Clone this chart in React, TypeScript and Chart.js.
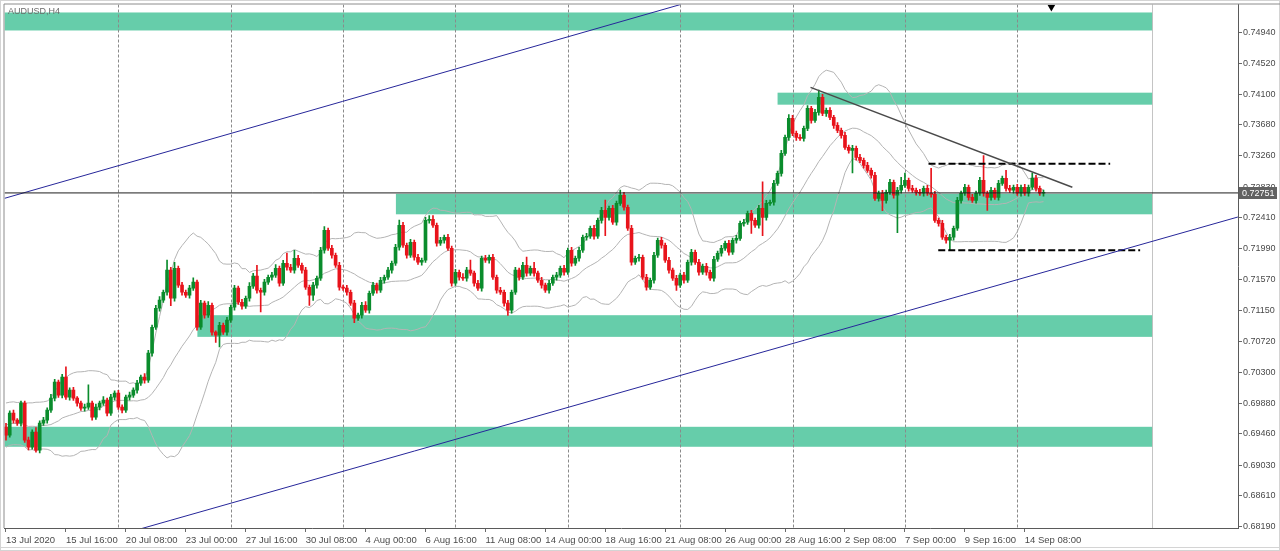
import React, { useEffect, useRef } from "react";
import { Chart, registerables } from "chart.js";

Chart.register(...registerables);

// ---------- data ----------
const symbolTitle = "AUDUSD,H4";
const firstOpen = 0.69551;

const closes = [
  0.69442, 0.69742, 0.69646, 0.69605, 0.69878, 0.69373, 0.69278, 0.69483, 0.69237, 0.69605,
  0.69646, 0.69783, 0.69947, 0.70165, 0.69988, 0.70233, 0.6996, 0.70056, 0.69947, 0.69878,
  0.6981, 0.69824, 0.69878, 0.69687, 0.69824, 0.69878, 0.69919, 0.69742, 0.6996, 0.70015,
  0.69824, 0.69783, 0.6996, 0.69988, 0.70056, 0.70151, 0.70233, 0.70192, 0.70561, 0.70916,
  0.71175, 0.71285, 0.71394, 0.71695, 0.71312, 0.71722, 0.7149, 0.71394, 0.71353, 0.71449,
  0.71531, 0.70916, 0.71244, 0.7108, 0.71216, 0.70848, 0.70807, 0.70943, 0.70848, 0.71012,
  0.71189, 0.71449, 0.71257, 0.71203, 0.71312, 0.71476, 0.71613, 0.71421, 0.71394, 0.71531,
  0.71599, 0.71627, 0.71722, 0.71517, 0.7179, 0.71735, 0.71695, 0.71858, 0.71763, 0.71695,
  0.71462, 0.71353, 0.7149, 0.71585, 0.71968, 0.72241, 0.71995, 0.71899, 0.71763, 0.71462,
  0.71449, 0.71394, 0.71244, 0.71039, 0.7108, 0.71216, 0.71148, 0.7138, 0.7149, 0.71421,
  0.71558, 0.71599, 0.71695, 0.7179, 0.72009, 0.72309, 0.72036, 0.71899, 0.72077, 0.71872,
  0.71804, 0.71831, 0.72377, 0.72391, 0.72309, 0.72063, 0.72104, 0.72145, 0.71995, 0.71517,
  0.71667, 0.71599, 0.71585, 0.71695, 0.71654, 0.71517, 0.71449, 0.71858, 0.71831, 0.71872,
  0.71599, 0.71421, 0.71394, 0.71244, 0.71148, 0.71394, 0.71695, 0.71599, 0.71763, 0.71654,
  0.71722, 0.71654, 0.71558, 0.7149, 0.71421, 0.71517, 0.71599, 0.71627, 0.71722, 0.71667,
  0.71968, 0.7179, 0.71858, 0.71968, 0.72145, 0.72159, 0.72268, 0.72159, 0.72377, 0.72514,
  0.72418, 0.72541, 0.7235, 0.72609, 0.72719, 0.72555, 0.72268, 0.71804, 0.71858, 0.71872,
  0.71599, 0.71462, 0.71558, 0.71899, 0.72104, 0.72036, 0.71831, 0.71695, 0.71585, 0.7149,
  0.71627, 0.71558, 0.71804, 0.7194, 0.71804, 0.71667, 0.71749, 0.71667, 0.71585, 0.71845,
  0.71927, 0.71995, 0.72063, 0.7194, 0.72104, 0.72131, 0.72336, 0.7235, 0.72473, 0.72377,
  0.72309, 0.72541, 0.72418, 0.72609, 0.72623, 0.72882, 0.73019, 0.73292, 0.7351, 0.7377,
  0.73565, 0.7351, 0.73497, 0.73633, 0.73906, 0.73743, 0.73852, 0.74057, 0.73838, 0.73879,
  0.73783, 0.73674, 0.73606, 0.73538, 0.73374, 0.73333, 0.7336, 0.73237, 0.73196, 0.73128,
  0.7306, 0.72992, 0.72677, 0.72746, 0.7265, 0.72759, 0.72896, 0.72719, 0.72787, 0.72855,
  0.72923, 0.72814, 0.72787, 0.72759, 0.72746, 0.72814, 0.72746, 0.72732, 0.72377, 0.72336,
  0.72145, 0.72104, 0.72145, 0.72268, 0.7265, 0.72746, 0.72828, 0.72691, 0.7265, 0.72746,
  0.72923, 0.72746, 0.72691, 0.72787, 0.72691, 0.72882, 0.72951, 0.72814, 0.72787, 0.72828,
  0.72746, 0.72828, 0.72746, 0.72828, 0.72951, 0.72814, 0.72746, 0.72751,
];

const upperWick = [
  0.0005, 0.0003, 0.0004, 0.0002, 0.0003, 0.0003, 0.0004, 0.0003, 0.0006, 0.0003,
  0.0004, 0.0003, 0.0005, 0.0004, 0.0003, 0.0004, 0.0014, 0.0003, 0.0004, 0.0002,
  0.0003, 0.0004, 0.0025, 0.0003, 0.0004, 0.0003, 0.0005, 0.0003, 0.0004, 0.0003,
  0.0004, 0.0003, 0.0003, 0.0004, 0.0003, 0.0004, 0.0003, 0.0005, 0.0004, 0.0003,
  0.0004, 0.0005, 0.0003, 0.0014, 0.0004, 0.0008, 0.0003, 0.0004, 0.0003, 0.0004,
  0.0006, 0.0003, 0.0004, 0.0003, 0.0005, 0.0003, 0.0002, 0.0004, 0.0003, 0.0004,
  0.0003, 0.0004, 0.0003, 0.0004, 0.0003, 0.0005, 0.0004, 0.0015, 0.0003, 0.0004,
  0.0003, 0.0004, 0.0005, 0.0003, 0.0004, 0.0014, 0.0004, 0.0011, 0.0004, 0.0003,
  0.0004, 0.0003, 0.0004, 0.0003, 0.0004, 0.0005, 0.0003, 0.0004, 0.0003, 0.0004,
  0.0003, 0.0004, 0.0003, 0.0004, 0.0003, 0.0004, 0.0005, 0.0003, 0.0004, 0.0003,
  0.0004, 0.0003, 0.0004, 0.0003, 0.0004, 0.0007, 0.0004, 0.0003, 0.0004, 0.0003,
  0.0004, 0.0003, 0.0004, 0.0005, 0.0005, 0.0003, 0.0004, 0.0003, 0.0004, 0.0003,
  0.0004, 0.0003, 0.0005, 0.0004, 0.0014, 0.0003, 0.0004, 0.0003, 0.0004, 0.0003,
  0.0004, 0.0003, 0.0004, 0.0003, 0.0004, 0.0003, 0.0004, 0.0003, 0.0004, 0.0011,
  0.0003, 0.0008, 0.0003, 0.0004, 0.0003, 0.0004, 0.0003, 0.0004, 0.0003, 0.0004,
  0.0003, 0.0004, 0.0003, 0.0004, 0.0003, 0.0004, 0.0003, 0.0004, 0.0003, 0.0004,
  0.0014, 0.0003, 0.0004, 0.0003, 0.0007, 0.0004, 0.0003, 0.0004, 0.0003, 0.0004,
  0.0003, 0.0004, 0.0003, 0.0004, 0.0003, 0.0004, 0.0003, 0.0004, 0.0003, 0.0004,
  0.0003, 0.0004, 0.0003, 0.0004, 0.0003, 0.0004, 0.0003, 0.0004, 0.0003, 0.0004,
  0.0003, 0.0004, 0.0003, 0.0004, 0.0003, 0.0004, 0.0003, 0.0004, 0.0003, 0.0004,
  0.0003, 0.0004, 0.0036, 0.0004, 0.0003, 0.0004, 0.0003, 0.0004, 0.0003, 0.0005,
  0.0004, 0.0003, 0.0004, 0.0003, 0.0004, 0.0003, 0.0004, 0.001, 0.0004, 0.0003,
  0.0004, 0.0003, 0.0004, 0.0003, 0.0004, 0.0003, 0.0004, 0.0003, 0.0004, 0.0003,
  0.0004, 0.0003, 0.0004, 0.0003, 0.0004, 0.0003, 0.0004, 0.0003, 0.0004, 0.0011,
  0.001, 0.0003, 0.0004, 0.0003, 0.0004, 0.0003, 0.0004, 0.0034, 0.0004, 0.0003,
  0.0004, 0.0003, 0.0004, 0.0003, 0.0004, 0.0003, 0.0004, 0.0003, 0.0004, 0.0003,
  0.0004, 0.0034, 0.0003, 0.0004, 0.0003, 0.0004, 0.0003, 0.0011, 0.0004, 0.0003,
  0.0004, 0.0003, 0.0004, 0.0003, 0.0007, 0.0004, 0.0003, 0.0004,
];

const lowerWick = [
  0.0007, 0.0003, 0.0004, 0.0003, 0.0004, 0.0003, 0.0004, 0.0003, 0.0003, 0.0004,
  0.0003, 0.0004, 0.0003, 0.0004, 0.0003, 0.0004, 0.0003, 0.0004, 0.0003, 0.0004,
  0.0003, 0.0004, 0.0003, 0.0004, 0.0003, 0.0004, 0.0003, 0.0004, 0.0003, 0.0004,
  0.0003, 0.0004, 0.0003, 0.0004, 0.0003, 0.0004, 0.0003, 0.0004, 0.0003, 0.0004,
  0.0003, 0.0004, 0.0003, 0.0004, 0.001, 0.0004, 0.0003, 0.0004, 0.0003, 0.0004,
  0.0003, 0.0004, 0.0003, 0.0004, 0.0003, 0.0004, 0.001, 0.0016, 0.0003, 0.0004,
  0.0003, 0.0004, 0.0003, 0.0004, 0.0003, 0.0004, 0.0003, 0.0004, 0.0027, 0.0004,
  0.0003, 0.0004, 0.0003, 0.0004, 0.0003, 0.0004, 0.0003, 0.0004, 0.0003, 0.0004,
  0.0003, 0.0014, 0.0007, 0.0004, 0.0003, 0.0004, 0.0003, 0.0004, 0.0003, 0.0004,
  0.0003, 0.0004, 0.0003, 0.0006, 0.0003, 0.0004, 0.0003, 0.0004, 0.0003, 0.0004,
  0.0003, 0.0004, 0.0003, 0.0004, 0.0003, 0.0004, 0.0003, 0.0004, 0.0003, 0.0004,
  0.0003, 0.0004, 0.0003, 0.0004, 0.0003, 0.0004, 0.0003, 0.0004, 0.0003, 0.0004,
  0.0003, 0.0004, 0.0003, 0.0004, 0.0003, 0.0004, 0.0003, 0.0004, 0.0003, 0.0004,
  0.0003, 0.0004, 0.0003, 0.0004, 0.0007, 0.0004, 0.0003, 0.0004, 0.0003, 0.0004,
  0.0003, 0.0004, 0.0003, 0.0004, 0.0003, 0.0004, 0.0003, 0.0004, 0.0003, 0.0004,
  0.0003, 0.0004, 0.0003, 0.0004, 0.0003, 0.0004, 0.0003, 0.0004, 0.0003, 0.0004,
  0.0025, 0.0004, 0.0003, 0.0004, 0.0003, 0.0004, 0.0003, 0.0004, 0.0003, 0.0004,
  0.0003, 0.0004, 0.0003, 0.0004, 0.0003, 0.0004, 0.0003, 0.0004, 0.0003, 0.0007,
  0.0003, 0.0004, 0.0003, 0.0004, 0.0003, 0.0004, 0.0003, 0.0004, 0.0003, 0.0004,
  0.0003, 0.0004, 0.0003, 0.0004, 0.0003, 0.0004, 0.0003, 0.0004, 0.0003, 0.0018,
  0.0003, 0.0004, 0.0025, 0.0004, 0.0003, 0.0004, 0.0003, 0.0004, 0.0003, 0.0004,
  0.0003, 0.0004, 0.0003, 0.0004, 0.0003, 0.0004, 0.0003, 0.0004, 0.0003, 0.0004,
  0.0003, 0.0004, 0.0003, 0.0004, 0.0003, 0.0004, 0.0031, 0.0004, 0.0003, 0.0004,
  0.0003, 0.0004, 0.0003, 0.0004, 0.0014, 0.0004, 0.0003, 0.0004, 0.0051, 0.0004,
  0.0003, 0.0004, 0.0003, 0.0004, 0.0003, 0.0004, 0.0003, 0.0004, 0.0003, 0.0004,
  0.0003, 0.0004, 0.0014, 0.0004, 0.0003, 0.0004, 0.0003, 0.0004, 0.0003, 0.0004,
  0.0003, 0.0004, 0.0018, 0.0004, 0.0003, 0.0004, 0.0003, 0.0004, 0.0003, 0.0004,
  0.0003, 0.0004, 0.0003, 0.0004, 0.0003, 0.0004, 0.0003, 0.0004,
];

// closes before the first visible bar, estimated from the band width at the left edge
const historyCloses = [
  0.69373, 0.6951, 0.69715, 0.69851, 0.69783, 0.69646, 0.69442, 0.69305, 0.69373, 0.69578,
  0.69715, 0.69783, 0.69646, 0.6951, 0.69442, 0.69578, 0.69715, 0.69646, 0.6951,
];

const timeLabels = [
  "13 Jul 2020", "15 Jul 16:00", "20 Jul 08:00", "23 Jul 00:00", "27 Jul 16:00",
  "30 Jul 08:00", "4 Aug 00:00", "6 Aug 16:00", "11 Aug 08:00", "14 Aug 00:00",
  "18 Aug 16:00", "21 Aug 08:00", "26 Aug 00:00", "28 Aug 16:00", "2 Sep 08:00",
  "7 Sep 00:00", "9 Sep 16:00", "14 Sep 08:00",
];
const barsPerTimeLabel = 16;

const priceTicks = [
  0.7494, 0.7452, 0.741, 0.7368, 0.7326, 0.7283, 0.7241, 0.7199, 0.7157,
  0.7115, 0.7072, 0.703, 0.6988, 0.6946, 0.6903, 0.6861, 0.6819,
];
const lastPrice = 0.72751;

const zoneTops = [0.75217, 0.74121, 0.72739, 0.7108, 0.69555];
const zoneBottoms = [0.74971, 0.73957, 0.72459, 0.70784, 0.69282];
const zoneStarts = [-1, 206.0, 104.1, 51.1, -1];
const zoneEnds = [306.0, 306.0, 306.0, 306.0, 306.0];

const weekSeparatorBars = [30, 60, 90, 120, 150, 180, 210, 240, 270];
const shiftLineBar = 306.0;

const upperChannel = [{ x: -0.4, y: 0.72677 }, { x: 180.1, y: 0.75326 }];
const lowerChannel = [{ x: 34.8, y: 0.68144 }, { x: 328.9, y: 0.72422 }];
const resistanceLine = [{ x: 214.8, y: 0.74193 }, { x: 284.7, y: 0.72828 }];
const rangeHigh = [{ x: 246.3, y: 0.73151 }, { x: 294.8, y: 0.73151 }];
const rangeLow = [{ x: 248.9, y: 0.71968 }, { x: 302.8, y: 0.71968 }];
const shiftMarker = [{ x: 279.1, y: 0.75292 }];

// ---------- view ----------
const X_MIN = -0.4;
const X_MAX = 328.93;
const Y_MIN = 0.68172;
const Y_MAX = 0.75326;

const BULL = "#0a8c2c";
const BEAR = "#e8131b";
const FONT = "Liberation Sans";

function bollinger(period: number, mult: number) {
  const all = [...historyCloses, ...closes];
  const off = historyCloses.length;
  const mid: any[] = [], up: any[] = [], lo: any[] = [];
  for (let i = 0; i < closes.length; i++) {
    const k = i + off;
    const w = all.slice(Math.max(0, k - period + 1), k + 1);
    const m = w.reduce((a, b) => a + b, 0) / w.length;
    const sd = Math.sqrt(w.reduce((a, b) => a + (b - m) * (b - m), 0) / w.length);
    mid.push({ x: i, y: m });
    up.push({ x: i, y: m + mult * sd });
    lo.push({ x: i, y: m - mult * sd });
  }
  return { mid, up, lo };
}

const zeroPad = (s: any) => {
  s.paddingTop = 0;
  s.paddingBottom = 0;
  s.paddingLeft = 0;
  s.paddingRight = 0;
};

const overlayPlugin = {
  id: "mt4Overlay",
  beforeDatasetsDraw(chart: any) {
    const { ctx, chartArea: a, scales } = chart;
    const x = scales.x, y = scales.y;
    ctx.save();
    ctx.beginPath();
    ctx.rect(a.left, a.top, a.right - a.left, a.bottom - a.top);
    ctx.clip();
    ctx.fillStyle = "#66cdaa";
    zoneTops.forEach((t, i) => {
      const x1 = Math.max(a.left, x.getPixelForValue(zoneStarts[i]));
      const x2 = x.getPixelForValue(zoneEnds[i]);
      const y1 = y.getPixelForValue(t);
      const y2 = y.getPixelForValue(zoneBottoms[i]);
      ctx.fillRect(x1, y1, x2 - x1, y2 - y1);
    });
    ctx.strokeStyle = "#8a8a8a";
    ctx.lineWidth = 1;
    ctx.setLineDash([3, 2]);
    weekSeparatorBars.forEach((b) => {
      const px = Math.round(x.getPixelForValue(b)) + 0.5;
      ctx.beginPath();
      ctx.moveTo(px, a.top);
      ctx.lineTo(px, a.bottom);
      ctx.stroke();
    });
    ctx.setLineDash([1, 1]);
    const sx = Math.round(x.getPixelForValue(shiftLineBar)) + 0.5;
    ctx.beginPath();
    ctx.moveTo(sx, a.top);
    ctx.lineTo(sx, a.bottom);
    ctx.stroke();
    ctx.restore();
  },
  afterDraw(chart: any) {
    const { ctx, chartArea: a, scales, width, height } = chart;
    const y = scales.y;
    ctx.save();
    ctx.strokeStyle = "#d4d4d4";
    ctx.lineWidth = 1;
    ctx.strokeRect(0.5, 0.5, width - 1, height - 1);
    ctx.beginPath();
    ctx.moveTo(0, height - 3.5);
    ctx.lineTo(width, height - 3.5);
    ctx.stroke();
    ctx.strokeStyle = "#8c8c8c";
    ctx.beginPath();
    ctx.moveTo(a.left - 0.5, a.top - 0.5);
    ctx.lineTo(width, a.top - 0.5);
    ctx.moveTo(a.left - 0.5, a.top - 0.5);
    ctx.lineTo(a.left - 0.5, a.bottom);
    ctx.stroke();
    ctx.fillStyle = "#6a6a6a";
    ctx.font = `9px "${FONT}"`;
    ctx.textBaseline = "middle";
    ctx.textAlign = "left";
    ctx.fillText(symbolTitle, 8, 12);
    const py = Math.round(y.getPixelForValue(lastPrice));
    ctx.fillStyle = "#626262";
    ctx.fillRect(a.right + 1, py - 6, 38, 12);
    ctx.fillStyle = "#ffffff";
    ctx.fillText(lastPrice.toFixed(5), a.right + 4, py + 0.5);
    ctx.restore();
  },
};

export default function App() {
  const ref = useRef<HTMLCanvasElement | null>(null);

  useEffect(() => {
    document.body.style.margin = "0";
    const canvas = ref.current;
    if (!canvas) return;

    const opens = closes.map((c, i) => (i === 0 ? firstOpen : closes[i - 1]));
    const highs = closes.map((c, i) => Math.max(opens[i], c) + upperWick[i]);
    const lows = closes.map((c, i) => Math.min(opens[i], c) - lowerWick[i]);
    const colors = closes.map((c, i) => (c >= opens[i] ? BULL : BEAR));
    const bb = bollinger(20, 2);

    const lineDs = (data: any[], color: string, width: number, dash: number[] = [], order = 0) => ({
      type: "line",
      data,
      borderColor: color,
      borderWidth: width,
      borderDash: dash,
      pointRadius: 0,
      fill: false,
      tension: 0,
      order,
    });

    const chart = new Chart(canvas, {
      type: "bar",
      data: {
        datasets: [
          lineDs([{ x: X_MIN, y: lastPrice }, { x: X_MAX, y: lastPrice }], "#1e1e1e", 1, [], 0),
          lineDs(upperChannel, "#26269a", 1, [], 0),
          lineDs(lowerChannel, "#26269a", 1, [], 0),
          lineDs(resistanceLine, "#4a4a4a", 1.5, [], 0),
          lineDs(rangeHigh, "#000000", 2, [7, 3], 0),
          lineDs(rangeLow, "#000000", 2, [7, 3], 0),
          {
            type: "line",
            data: shiftMarker,
            showLine: false,
            pointStyle: "triangle",
            rotation: 180,
            pointRadius: 4.5,
            pointBackgroundColor: "#000000",
            pointBorderColor: "#000000",
            pointBorderWidth: 0,
            order: 0,
          },
          {
            type: "bar",
            data: closes.map((c, i) => ({ x: i, y: [opens[i], c] })),
            backgroundColor: colors,
            borderWidth: 0,
            barThickness: 3,
            minBarLength: 1,
            grouped: false,
            order: 1,
          },
          {
            type: "bar",
            data: closes.map((c, i) => ({ x: i, y: [lows[i], highs[i]] })),
            backgroundColor: colors,
            borderWidth: 0,
            barThickness: 1,
            grouped: false,
            order: 2,
          },
          lineDs(bb.up, "#b4b4b4", 1, [], 3),
          lineDs(bb.mid, "#b4b4b4", 1, [], 3),
          lineDs(bb.lo, "#b4b4b4", 1, [], 3),
        ] as any,
      },
      options: {
        animation: false,
        responsive: false,
        maintainAspectRatio: false,
        devicePixelRatio: 1,
        events: [],
        layout: { padding: { left: 3, top: 4, right: 0, bottom: 0 } },
        plugins: {
          legend: { display: false },
          tooltip: { enabled: false },
        },
        scales: {
          x: {
            type: "linear",
            position: "bottom",
            offset: false,
            bounds: "ticks",
            min: X_MIN,
            max: X_MAX,
            afterBuildTicks: (s: any) => {
              s.ticks = timeLabels.map((_, k) => ({ value: k * barsPerTimeLabel }));
            },
            afterFit: (s: any) => {
              s.height = 23;
              zeroPad(s);
            },
            ticks: {
              autoSkip: false,
              maxRotation: 0,
              minRotation: 0,
              align: "start",
              labelOffset: 0,
              padding: 3,
              color: "#4a4a4a",
              font: { family: FONT, size: 9.5 },
              callback: (_v: any, idx: number) => timeLabels[idx],
            },
            grid: { offset: false, drawOnChartArea: false, drawTicks: true, tickLength: 4, color: "#6a6a6a" },
            border: { display: true, color: "#5a5a5a", width: 1 },
          },
          y: {
            type: "linear",
            position: "right",
            min: Y_MIN,
            max: Y_MAX,
            afterBuildTicks: (s: any) => {
              s.ticks = priceTicks.map((v) => ({ value: v }));
            },
            afterFit: (s: any) => {
              s.width = 42;
              zeroPad(s);
            },
            ticks: {
              autoSkip: false,
              padding: 1,
              color: "#4a4a4a",
              font: { family: FONT, size: 9 },
              callback: (v: any) => Number(v).toFixed(5),
            },
            grid: { drawOnChartArea: false, drawTicks: true, tickLength: 4, color: "#6a6a6a" },
            border: { display: true, color: "#5a5a5a", width: 1 },
          },
        },
      } as any,
      plugins: [overlayPlugin as any],
    });

    return () => chart.destroy();
  }, []);

  return (
    <canvas
      ref={ref}
      width={1280}
      height={551}
      style={{ display: "block", width: 1280, height: 551, background: "#ffffff" }}
    />
  );
}
